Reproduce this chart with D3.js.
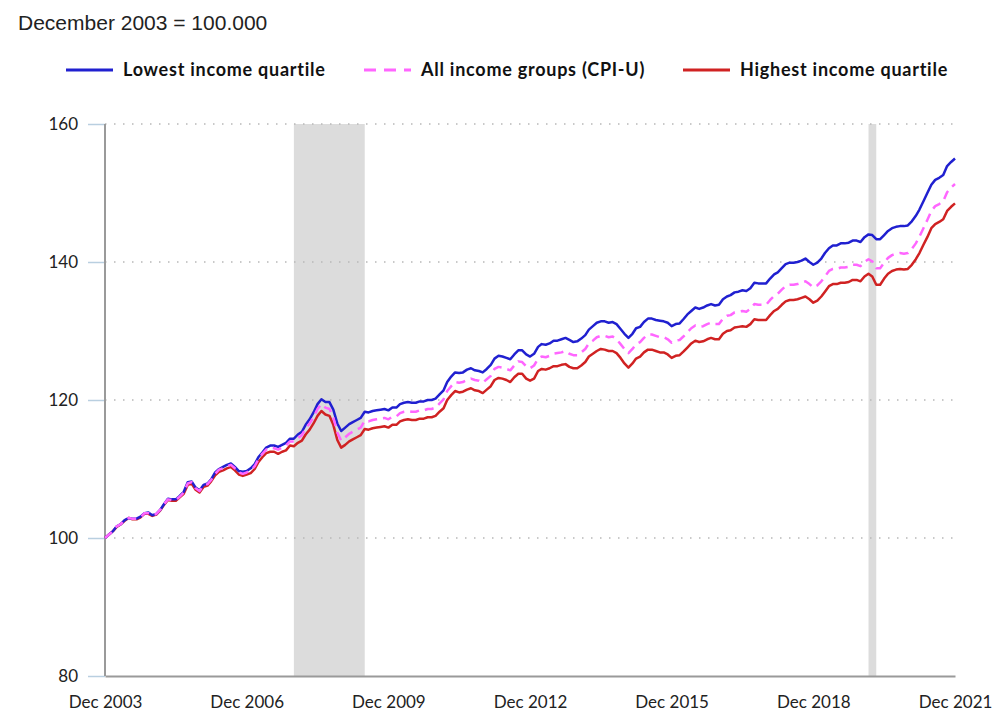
<!DOCTYPE html>
<html>
<head>
<meta charset="utf-8">
<script src="https://cdn.jsdelivr.net/npm/d3@7"></script>
<style>
  body { margin: 0; background: #fff; }
  svg { display: block; }
  .note { font-family: "Liberation Sans", Arial, sans-serif; font-size: 21px; fill: #222; }
  .legend text { font-family: Lato, "Open Sans", sans-serif; font-weight: bold; font-size: 18px; letter-spacing: 0.75px; fill: #111; }
  .tick text { font-family: Lato, "Open Sans", sans-serif; font-size: 17px; fill: #222; }
</style>
</head>
<body>
<script>
// Dec 2003 .. Dec 2021, monthly, Dec 2003 = 100
const firstMonth = "2003-12";
const tickLabels = ["Dec 2003", "Dec 2006", "Dec 2009", "Dec 2012", "Dec 2015", "Dec 2018", "Dec 2021"];
const yTicks = [80, 100, 120, 140, 160];
const recessions = [["2007-12", "2009-06"], ["2020-02", "2020-04"]];

const lowest = [100.0,
  100.5, 101.0, 101.7, 102.0, 102.6, 102.9, 102.8, 102.8, 103.1, 103.6, 103.7, 103.3,
  103.5, 104.1, 104.9, 105.7, 105.6, 105.6, 106.1, 106.7, 108.1, 108.2, 107.3, 106.9,
  107.7, 107.9, 108.5, 109.5, 110.0, 110.3, 110.6, 110.8, 110.3, 109.7, 109.6, 109.7,
  110.1, 110.7, 111.7, 112.4, 113.1, 113.4, 113.4, 113.2, 113.5, 113.8, 114.4, 114.4,
  115.0, 115.4, 116.4, 117.2, 118.2, 119.4, 120.1, 119.7, 119.7, 118.6, 116.6, 115.5,
  116.0, 116.5, 116.8, 117.1, 117.4, 118.3, 118.2, 118.4, 118.5, 118.6, 118.7, 118.5,
  118.9, 118.9, 119.4, 119.6, 119.7, 119.6, 119.6, 119.8, 119.8, 120.0, 120.0, 120.2,
  120.8, 121.4, 122.6, 123.4, 124.0, 123.9, 124.0, 124.4, 124.6, 124.3, 124.2, 124.0,
  124.5, 125.1, 126.0, 126.4, 126.3, 126.1, 125.9, 126.6, 127.2, 127.2, 126.6, 126.3,
  126.7, 127.7, 128.1, 128.0, 128.2, 128.6, 128.6, 128.8, 129.0, 128.7, 128.4, 128.5,
  128.9, 129.4, 130.2, 130.7, 131.2, 131.4, 131.4, 131.2, 131.3, 131.0, 130.3, 129.6,
  129.0, 129.6, 130.4, 130.6, 131.3, 131.8, 131.8, 131.6, 131.5, 131.4, 131.2, 130.7,
  131.0, 131.1, 131.7, 132.4, 132.9, 133.4, 133.2, 133.4, 133.7, 133.9, 133.7, 133.8,
  134.6, 135.0, 135.2, 135.6, 135.7, 135.9, 135.8, 136.2, 137.0, 136.9, 136.9, 136.9,
  137.6, 138.2, 138.5, 139.1, 139.7, 139.9, 139.9, 140.0, 140.2, 140.5, 140.0, 139.6,
  139.9, 140.5, 141.3, 142.0, 142.4, 142.4, 142.7, 142.7, 142.8, 143.1, 143.1, 142.9,
  143.6, 144.0, 143.9, 143.3, 143.3, 143.9, 144.5, 144.9, 145.1, 145.2, 145.2, 145.3,
  145.9, 146.7, 147.6, 148.8, 150.0, 151.2, 151.9, 152.2, 152.6, 153.9, 154.5, 155.0];

const allGroups = [100.0,
  100.5, 101.0, 101.7, 102.0, 102.6, 102.9, 102.8, 102.8, 103.0, 103.6, 103.6, 103.3,
  103.5, 104.1, 104.9, 105.6, 105.5, 105.5, 106.0, 106.6, 107.9, 108.1, 107.2, 106.8,
  107.6, 107.8, 108.4, 109.3, 109.9, 110.1, 110.4, 110.6, 110.1, 109.5, 109.3, 109.5,
  109.8, 110.4, 111.4, 112.2, 112.8, 113.1, 113.0, 112.8, 113.1, 113.4, 114.0, 114.0,
  114.5, 114.9, 115.9, 116.6, 117.5, 118.7, 119.4, 118.9, 118.7, 117.5, 115.3, 114.1,
  114.6, 115.1, 115.4, 115.7, 116.0, 117.0, 116.9, 117.1, 117.2, 117.3, 117.4, 117.2,
  117.6, 117.6, 118.1, 118.3, 118.4, 118.3, 118.3, 118.5, 118.5, 118.7, 118.7, 118.9,
  119.5, 120.1, 121.3, 122.0, 122.6, 122.5, 122.6, 122.9, 123.1, 122.9, 122.8, 122.5,
  123.0, 123.5, 124.5, 124.8, 124.7, 124.5, 124.3, 125.0, 125.6, 125.5, 124.9, 124.6,
  125.0, 126.0, 126.3, 126.2, 126.4, 126.7, 126.8, 126.9, 127.1, 126.7, 126.5, 126.5,
  126.9, 127.4, 128.2, 128.6, 129.1, 129.3, 129.3, 129.1, 129.2, 128.8, 128.1, 127.4,
  126.8, 127.4, 128.1, 128.4, 129.0, 129.5, 129.5, 129.3, 129.1, 129.1, 128.8, 128.3,
  128.6, 128.7, 129.2, 129.8, 130.4, 130.8, 130.6, 130.7, 131.0, 131.2, 131.0, 131.0,
  131.8, 132.2, 132.3, 132.7, 132.8, 132.9, 132.8, 133.2, 133.9, 133.8, 133.8, 133.8,
  134.5, 135.1, 135.4, 136.0, 136.5, 136.7, 136.7, 136.8, 137.0, 137.2, 136.8, 136.3,
  136.6, 137.2, 137.9, 138.7, 139.0, 139.0, 139.2, 139.2, 139.3, 139.6, 139.6, 139.4,
  140.0, 140.4, 140.1, 139.1, 139.1, 139.9, 140.6, 141.0, 141.2, 141.3, 141.2, 141.3,
  141.9, 142.7, 143.7, 144.9, 146.1, 147.4, 148.1, 148.4, 148.8, 150.1, 150.8, 151.3];

const highest = [100.0,
  100.5, 101.0, 101.6, 102.0, 102.5, 102.9, 102.7, 102.7, 103.0, 103.5, 103.5, 103.2,
  103.4, 104.0, 104.8, 105.5, 105.4, 105.4, 105.9, 106.4, 107.7, 107.9, 107.0, 106.6,
  107.4, 107.6, 108.2, 109.1, 109.6, 109.8, 110.1, 110.3, 109.8, 109.2, 109.0, 109.2,
  109.4, 110.0, 111.0, 111.7, 112.3, 112.5, 112.5, 112.2, 112.5, 112.7, 113.4, 113.3,
  113.8, 114.1, 115.0, 115.7, 116.6, 117.7, 118.4, 117.9, 117.7, 116.4, 114.2, 113.1,
  113.5, 114.0, 114.3, 114.6, 114.9, 115.8, 115.7, 115.9, 116.0, 116.1, 116.2, 116.0,
  116.4, 116.4, 116.9, 117.1, 117.2, 117.1, 117.1, 117.3, 117.3, 117.5, 117.5, 117.7,
  118.3, 118.8, 120.0, 120.7, 121.3, 121.1, 121.2, 121.5, 121.7, 121.4, 121.3, 121.0,
  121.5, 122.0, 122.9, 123.2, 123.1, 122.9, 122.6, 123.3, 123.8, 123.8, 123.1, 122.8,
  123.1, 124.2, 124.5, 124.4, 124.6, 124.9, 124.9, 125.1, 125.2, 124.8, 124.6, 124.6,
  125.0, 125.5, 126.3, 126.7, 127.1, 127.4, 127.3, 127.1, 127.1, 126.8, 126.1, 125.3,
  124.7, 125.3, 126.0, 126.3, 126.9, 127.3, 127.3, 127.1, 126.9, 126.9, 126.6, 126.1,
  126.4, 126.5, 127.0, 127.6, 128.2, 128.6, 128.4, 128.5, 128.8, 129.0, 128.8, 128.8,
  129.6, 130.0, 130.1, 130.5, 130.6, 130.7, 130.6, 131.0, 131.7, 131.6, 131.6, 131.6,
  132.3, 132.9, 133.2, 133.8, 134.3, 134.5, 134.5, 134.6, 134.8, 135.0, 134.6, 134.1,
  134.4, 135.0, 135.7, 136.5, 136.8, 136.8, 137.0, 137.0, 137.1, 137.4, 137.4, 137.2,
  137.9, 138.3, 137.9, 136.7, 136.7, 137.6, 138.3, 138.7, 138.9, 139.0, 138.9, 139.0,
  139.6, 140.4, 141.3, 142.5, 143.6, 144.9, 145.5, 145.8, 146.2, 147.4, 148.0, 148.5];

const seriesNames = ["Lowest income quartile", "All income groups (CPI-U)", "Highest income quartile"];
const seriesColors = ["#2020d0", "#ff66ff", "#d02222"];
const seriesDash = [null, "9,6", null];

const parseMonth = d3.timeParse("%Y-%m");
const start = parseMonth(firstMonth);
const dates = lowest.map((v, i) => d3.timeMonth.offset(start, i));

const W = 997, H = 712;
const margin = {top: 124, right: 42, bottom: 36, left: 105};
const width = W - margin.left - margin.right,
      height = H - margin.top - margin.bottom;

const svg = d3.select("body").append("svg")
    .attr("width", W)
    .attr("height", H);

svg.append("text")
    .attr("class", "note")
    .attr("x", 18)
    .attr("y", 30)
    .text("December 2003 = 100.000");

// legend
const legendX = [66, 364, 683];
const legend = svg.append("g").attr("class", "legend")
    .selectAll("g")
    .data(seriesNames)
    .enter().append("g")
    .attr("transform", (d, i) => "translate(" + legendX[i] + ",70)");
legend.append("line")
    .attr("x1", 0).attr("x2", 47)
    .attr("stroke", (d, i) => seriesColors[i])
    .attr("stroke-width", 3)
    .attr("stroke-dasharray", (d, i) => seriesDash[i] ? "12,8" : null);
legend.append("text")
    .attr("x", 57)
    .attr("y", 6)
    .text(d => d);

const g = svg.append("g")
    .attr("transform", "translate(" + margin.left + "," + margin.top + ")");

const x = d3.scaleTime().domain([dates[0], dates[dates.length - 1]]).range([0, width]);
const y = d3.scaleLinear().domain([80, 160]).range([height, 0]);

// recession shading
g.selectAll("rect.recession").data(recessions)
    .enter().append("rect")
    .attr("class", "recession")
    .attr("x", d => x(parseMonth(d[0])))
    .attr("width", d => x(parseMonth(d[1])) - x(parseMonth(d[0])))
    .attr("y", 0)
    .attr("height", height)
    .attr("fill", "#dcdcdc");

// dotted gridlines
g.selectAll("line.grid").data(yTicks.filter(t => t > 80))
    .enter().append("line")
    .attr("class", "grid")
    .attr("x1", 0).attr("x2", width)
    .attr("y1", d => y(d)).attr("y2", d => y(d))
    .attr("stroke", "#b8b8b8")
    .attr("stroke-width", 1.5)
    .attr("stroke-dasharray", "1.5,7.5");

// y axis
const yAxis = g.append("g")
    .call(d3.axisLeft(y).tickValues(yTicks).tickSize(17).tickPadding(10));
yAxis.select(".domain").remove();
yAxis.selectAll(".tick line").attr("stroke", "#b9cfe0").attr("stroke-width", 1.5);
g.append("line")
    .attr("x1", 0).attr("x2", 0)
    .attr("y1", 0).attr("y2", height)
    .attr("stroke", "#9a9a9a").attr("stroke-width", 2);

// x axis
const xTickDates = tickLabels.map(s => d3.timeParse("%b %Y")(s));
const xAxis = g.append("g")
    .attr("transform", "translate(0," + height + ")")
    .call(d3.axisBottom(x).tickValues(xTickDates).tickSize(0).tickPadding(20)
        .tickFormat(d3.timeFormat("%b %Y")));
xAxis.select(".domain").attr("stroke", "#9a9a9a").attr("stroke-width", 2);

// lines
const line = d3.line()
    .x((d, i) => x(dates[i]))
    .y(d => y(d));
const seriesData = [lowest, allGroups, highest];
g.selectAll("path.series").data([2, 0, 1])
    .enter().append("path")
    .attr("class", "series")
    .attr("fill", "none")
    .attr("stroke", i => seriesColors[i])
    .attr("stroke-width", 2.5)
    .attr("stroke-linejoin", "round")
    .attr("stroke-dasharray", i => seriesDash[i])
    .attr("d", i => line(seriesData[i]));
</script>
</body>
</html>
